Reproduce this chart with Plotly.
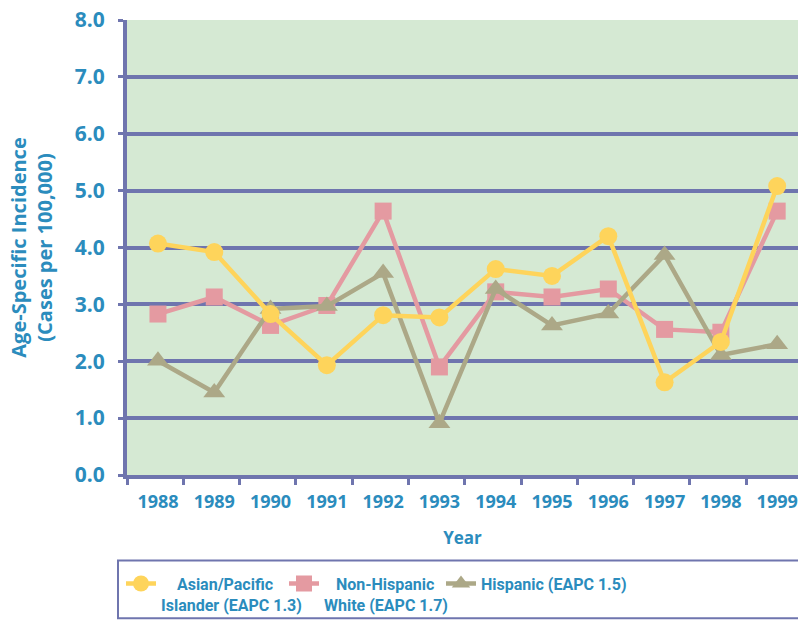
import plotly.graph_objects as go

# Incidence per 100,000 by year and group
years = ["1988", "1989", "1990", "1991", "1992", "1993",
         "1994", "1995", "1996", "1997", "1998", "1999"]
asian_pacific = [4.07, 3.92, 2.83, 1.93, 2.81, 2.77, 3.62, 3.50, 4.20, 1.63, 2.34, 5.08]
non_hispanic_white = [2.83, 3.13, 2.63, 2.98, 4.64, 1.90, 3.22, 3.13, 3.27, 2.56, 2.51, 4.64]
hispanic = [2.01, 1.45, 2.92, 2.97, 3.55, 0.91, 3.27, 2.63, 2.84, 3.87, 2.11, 2.30]

NB = "\u00a0"
names = [
    f"<b>{NB * 4}Asian/Pacific</b><br><b>Islander (EAPC 1.3)</b>",
    f"<b>{NB * 3}Non-Hispanic</b><br><b>White (EAPC 1.7)</b>",
    "<b>Hispanic (EAPC 1.5)</b>",
]

BLUE = "#2b8cbd"
GRID = "#6f75ae"
FONT = "Open Sans"

x = list(range(len(years)))
x_lo, x_hi = -0.55, 11.37

fig = go.Figure()

# drawn bottom-to-top: pink, tan, yellow; each series has its own legend box
fig.add_trace(go.Scatter(
    x=x, y=non_hispanic_white, name=names[1], legend="legend2",
    mode="lines+markers",
    line=dict(color="#e49aa1", width=4.5),
    marker=dict(symbol="square", size=17, color="#e49aa1"),
))
fig.add_trace(go.Scatter(
    x=x, y=hispanic, name=names[2], legend="legend3",
    mode="lines+markers",
    line=dict(color="#aca887", width=4.5),
    marker=dict(symbol="triangle-up", size=19, color="#aca887"),
))
fig.add_trace(go.Scatter(
    x=x, y=asian_pacific, name=names[0], legend="legend",
    mode="lines+markers",
    line=dict(color="#fed45b", width=4.5),
    marker=dict(symbol="circle", size=18, color="#fed45b"),
))

# invisible trace carrying the year labels on the overlay axis
fig.add_trace(go.Scatter(x=x, y=[None] * len(x), xaxis="x2",
                         showlegend=False, hoverinfo="skip"))

# legend frame running off the right edge
fig.add_shape(type="rect", xref="paper", yref="paper",
              x0=-9 / 671, x1=1.02, y0=(477 - 621) / 457, y1=(477 - 563) / 457,
              line=dict(color=GRID, width=2), fillcolor="rgba(0,0,0,0)")


def legend_at(px):
    return dict(
        orientation="h",
        x=(px - 127) / 671, xanchor="left",
        y=(477 - 569) / 457, yanchor="top",
        bgcolor="rgba(0,0,0,0)", borderwidth=0,
        font=dict(size=16, color=BLUE, family="Roboto"),
        itemwidth=30, valign="top",
    )


fig.update_layout(
    width=798, height=622,
    margin=dict(l=127, r=0, t=20, b=145),
    paper_bgcolor="white",
    plot_bgcolor="#d5e9d3",
    font=dict(family=FONT, color=BLUE),
    showlegend=True,
    xaxis=dict(
        range=[x_lo, x_hi], automargin=False,
        tickvals=[k + x_lo for k in range(12)],
        ticktext=[""] * 12,
        ticks="outside", ticklen=6, tickwidth=3, tickcolor=GRID,
        showgrid=False, zeroline=False,
        showline=True, linecolor=GRID, linewidth=4,
        title=dict(text="<b>Year</b>", font=dict(size=17, color=BLUE, family=FONT),
                   standoff=47),
    ),
    xaxis2=dict(
        range=[x_lo, x_hi], overlaying="x", anchor="y", side="bottom",
        automargin=False,
        tickvals=x, ticktext=[f"<b>{y}</b>" for y in years],
        tickfont=dict(size=18, color=BLUE, family=FONT),
        ticks="", ticklabelstandoff=14,
        showgrid=False, zeroline=False, showline=False,
    ),
    yaxis=dict(
        range=[0, 8], automargin=False,
        tickvals=list(range(9)),
        ticktext=[f"<b>{v:.1f}</b>" for v in range(9)],
        tickfont=dict(size=21, color=BLUE, family=FONT),
        ticks="outside", ticklen=5, tickwidth=3, tickcolor=GRID,
        ticklabelstandoff=9,
        showgrid=True, gridcolor=GRID, gridwidth=4,
        zeroline=False,
        showline=True, linecolor=GRID, linewidth=4,
        title=dict(text="<b>Age-Specific Incidence<br>(Cases per 100,000)</b>",
                   font=dict(size=20, color=BLUE, family=FONT), standoff=18),
    ),
    legend=legend_at(121),
    legend2=legend_at(284),
    legend3=legend_at(441),
)

fig.write_html("out.html")
